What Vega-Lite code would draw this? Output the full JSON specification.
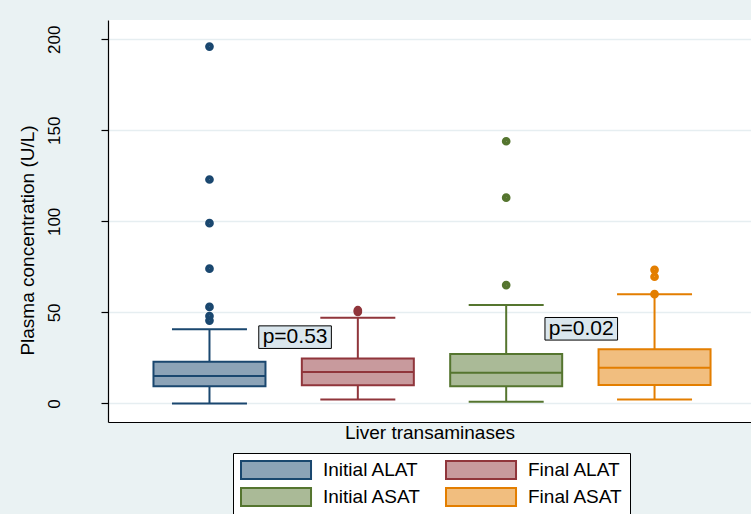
{
  "$schema": "https://vega.github.io/schema/vega-lite/v6.json",
  "width": 643,
  "height": 402,
  "autosize": {"type": "none"},
  "padding": {"left": 108, "top": 20, "right": 0, "bottom": 92},
  "background": "#eaf2f3",
  "view": {"fill": "white", "stroke": null},
  "config": {
    "font": "Liberation Sans",
    "axis": {
      "labelFont": "Liberation Sans",
      "titleFont": "Liberation Sans",
      "titleFontWeight": "normal",
      "titleColor": "black",
      "labelColor": "black",
      "domainColor": "black",
      "tickColor": "black",
      "domainWidth": 1.2,
      "tickWidth": 1.2
    },
    "axisY": {
      "tickSize": 7,
      "labelFontSize": 17,
      "labelAngle": 270,
      "labelAlign": "center",
      "labelBaseline": "middle",
      "labelPadding": 47,
      "titleFontSize": 19,
      "titleAngle": 270,
      "titleX": -81,
      "titleY": 220,
      "titleAlign": "center",
      "titleBaseline": "middle",
      "gridColor": "#e6eef1",
      "gridWidth": 1.5
    },
    "axisX": {
      "grid": false,
      "ticks": false,
      "labels": false,
      "titleFontSize": 19,
      "titlePadding": 1
    },
    "legend": {
      "orient": "none",
      "direction": "horizontal",
      "legendX": 125,
      "legendY": 433,
      "columns": 2,
      "fillColor": "white",
      "strokeColor": "black",
      "padding": 7,
      "rowPadding": 1,
      "columnPadding": 21,
      "symbolType": "M-1,-1H6.78V1H-1Z",
      "symbolSize": 324,
      "symbolStrokeWidth": 2,
      "symbolOpacity": 1,
      "labelFontSize": 19,
      "labelOffset": 63,
      "labelFont": "Liberation Sans",
      "labelColor": "black"
    }
  },
  "datasets": {
    "stats": [
      {"group": "Initial ALAT", "pos": 1, "lo": 0, "q1": 9.5, "med": 15, "q3": 22.9, "hi": 40.8},
      {"group": "Final ALAT", "pos": 2, "lo": 2.2, "q1": 10, "med": 17.2, "q3": 24.7, "hi": 47},
      {"group": "Initial ASAT", "pos": 3, "lo": 0.9, "q1": 9.5, "med": 16.8, "q3": 27.1, "hi": 54},
      {"group": "Final ASAT", "pos": 4, "lo": 2.2, "q1": 10.1, "med": 19.6, "q3": 29.8, "hi": 60}
    ],
    "outliers": [
      {"group": "Initial ALAT", "pos": 1, "value": 196},
      {"group": "Initial ALAT", "pos": 1, "value": 123},
      {"group": "Initial ALAT", "pos": 1, "value": 99},
      {"group": "Initial ALAT", "pos": 1, "value": 74},
      {"group": "Initial ALAT", "pos": 1, "value": 53},
      {"group": "Initial ALAT", "pos": 1, "value": 48},
      {"group": "Initial ALAT", "pos": 1, "value": 45.5},
      {"group": "Final ALAT", "pos": 2, "value": 50.3},
      {"group": "Final ALAT", "pos": 2, "value": 51.2},
      {"group": "Initial ASAT", "pos": 3, "value": 144},
      {"group": "Initial ASAT", "pos": 3, "value": 113},
      {"group": "Initial ASAT", "pos": 3, "value": 65},
      {"group": "Final ASAT", "pos": 4, "value": 60},
      {"group": "Final ASAT", "pos": 4, "value": 69.6},
      {"group": "Final ASAT", "pos": 4, "value": 73.4}
    ],
    "labels": [
      {"label": "p=0.53", "pos": 1.577, "value": 36.4},
      {"label": "p=0.02", "pos": 3.506, "value": 41}
    ]
  },
  "encoding": {
    "x": {
      "field": "pos",
      "type": "quantitative",
      "title": "Liver transaminases",
      "scale": {"domain": [0.3497, 4.6165], "nice": false, "zero": false}
    }
  },
  "layer": [
    {
      "data": {"name": "stats"},
      "mark": {"type": "rule", "strokeWidth": 2},
      "encoding": {
        "y": {"field": "lo", "type": "quantitative", "title": "Plasma concentration (U/L)",
              "scale": {"domain": [-10.2, 210.6], "nice": false, "zero": false},
              "axis": {"values": [0, 50, 100, 150, 200]}},
        "y2": {"field": "q1"},
        "stroke": {"field": "group", "type": "nominal"}
      }
    },
    {
      "data": {"name": "stats"},
      "mark": {"type": "rule", "strokeWidth": 2},
      "encoding": {
        "y": {"field": "q3", "type": "quantitative", "title": "Plasma concentration (U/L)"},
        "y2": {"field": "hi"},
        "stroke": {"field": "group", "type": "nominal"}
      }
    },
    {
      "data": {"name": "stats"},
      "mark": {"type": "bar", "size": 112, "strokeWidth": 2, "opacity": 1},
      "encoding": {
        "y": {"field": "q1", "type": "quantitative", "title": "Plasma concentration (U/L)"},
        "y2": {"field": "q3"},
        "fill": {"field": "group", "type": "nominal", "legend": {"title": null},
                 "scale": {"domain": ["Initial ALAT", "Final ALAT", "Initial ASAT", "Final ASAT"],
                           "range": ["#8ca3b7", "#c89a9d", "#aaba97", "#f1be7f"]}},
        "stroke": {"field": "group", "type": "nominal", "legend": {"title": null},
                   "scale": {"domain": ["Initial ALAT", "Final ALAT", "Initial ASAT", "Final ASAT"],
                             "range": ["#1a476f", "#90353b", "#55752f", "#e37e00"]}}
      }
    },
    {
      "data": {"name": "stats"},
      "mark": {"type": "tick", "orient": "horizontal", "size": 112, "thickness": 0, "filled": false, "strokeWidth": 2, "opacity": 1},
      "encoding": {
        "y": {"field": "med", "type": "quantitative", "title": "Plasma concentration (U/L)"},
        "stroke": {"field": "group", "type": "nominal"}
      }
    },
    {
      "data": {"name": "stats"},
      "mark": {"type": "tick", "orient": "horizontal", "size": 75, "thickness": 0, "filled": false, "strokeWidth": 2, "opacity": 1},
      "encoding": {
        "y": {"field": "hi", "type": "quantitative", "title": "Plasma concentration (U/L)"},
        "stroke": {"field": "group", "type": "nominal"}
      }
    },
    {
      "data": {"name": "stats"},
      "mark": {"type": "tick", "orient": "horizontal", "size": 75, "thickness": 0, "filled": false, "strokeWidth": 2, "opacity": 1},
      "encoding": {
        "y": {"field": "lo", "type": "quantitative", "title": "Plasma concentration (U/L)"},
        "stroke": {"field": "group", "type": "nominal"}
      }
    },
    {
      "data": {"name": "outliers"},
      "mark": {"type": "point", "shape": "circle", "filled": false, "size": 17, "strokeWidth": 4.6, "opacity": 1},
      "encoding": {
        "y": {"field": "value", "type": "quantitative", "title": "Plasma concentration (U/L)"},
        "stroke": {"field": "group", "type": "nominal"}
      }
    },
    {
      "data": {"name": "labels"},
      "mark": {"type": "point", "shape": "M-1,-0.311H1V0.311H-1Z", "size": 5270, "filled": true,
               "fill": "#dae6ed", "stroke": "black", "strokeWidth": 1, "opacity": 1},
      "encoding": {
        "y": {"field": "value", "type": "quantitative", "title": "Plasma concentration (U/L)"}
      }
    },
    {
      "data": {"name": "labels"},
      "mark": {"type": "text", "fontSize": 21, "align": "center", "baseline": "middle", "color": "black", "font": "Liberation Sans"},
      "encoding": {
        "y": {"field": "value", "type": "quantitative", "title": "Plasma concentration (U/L)"},
        "text": {"field": "label", "type": "nominal"}
      }
    }
  ]
}
